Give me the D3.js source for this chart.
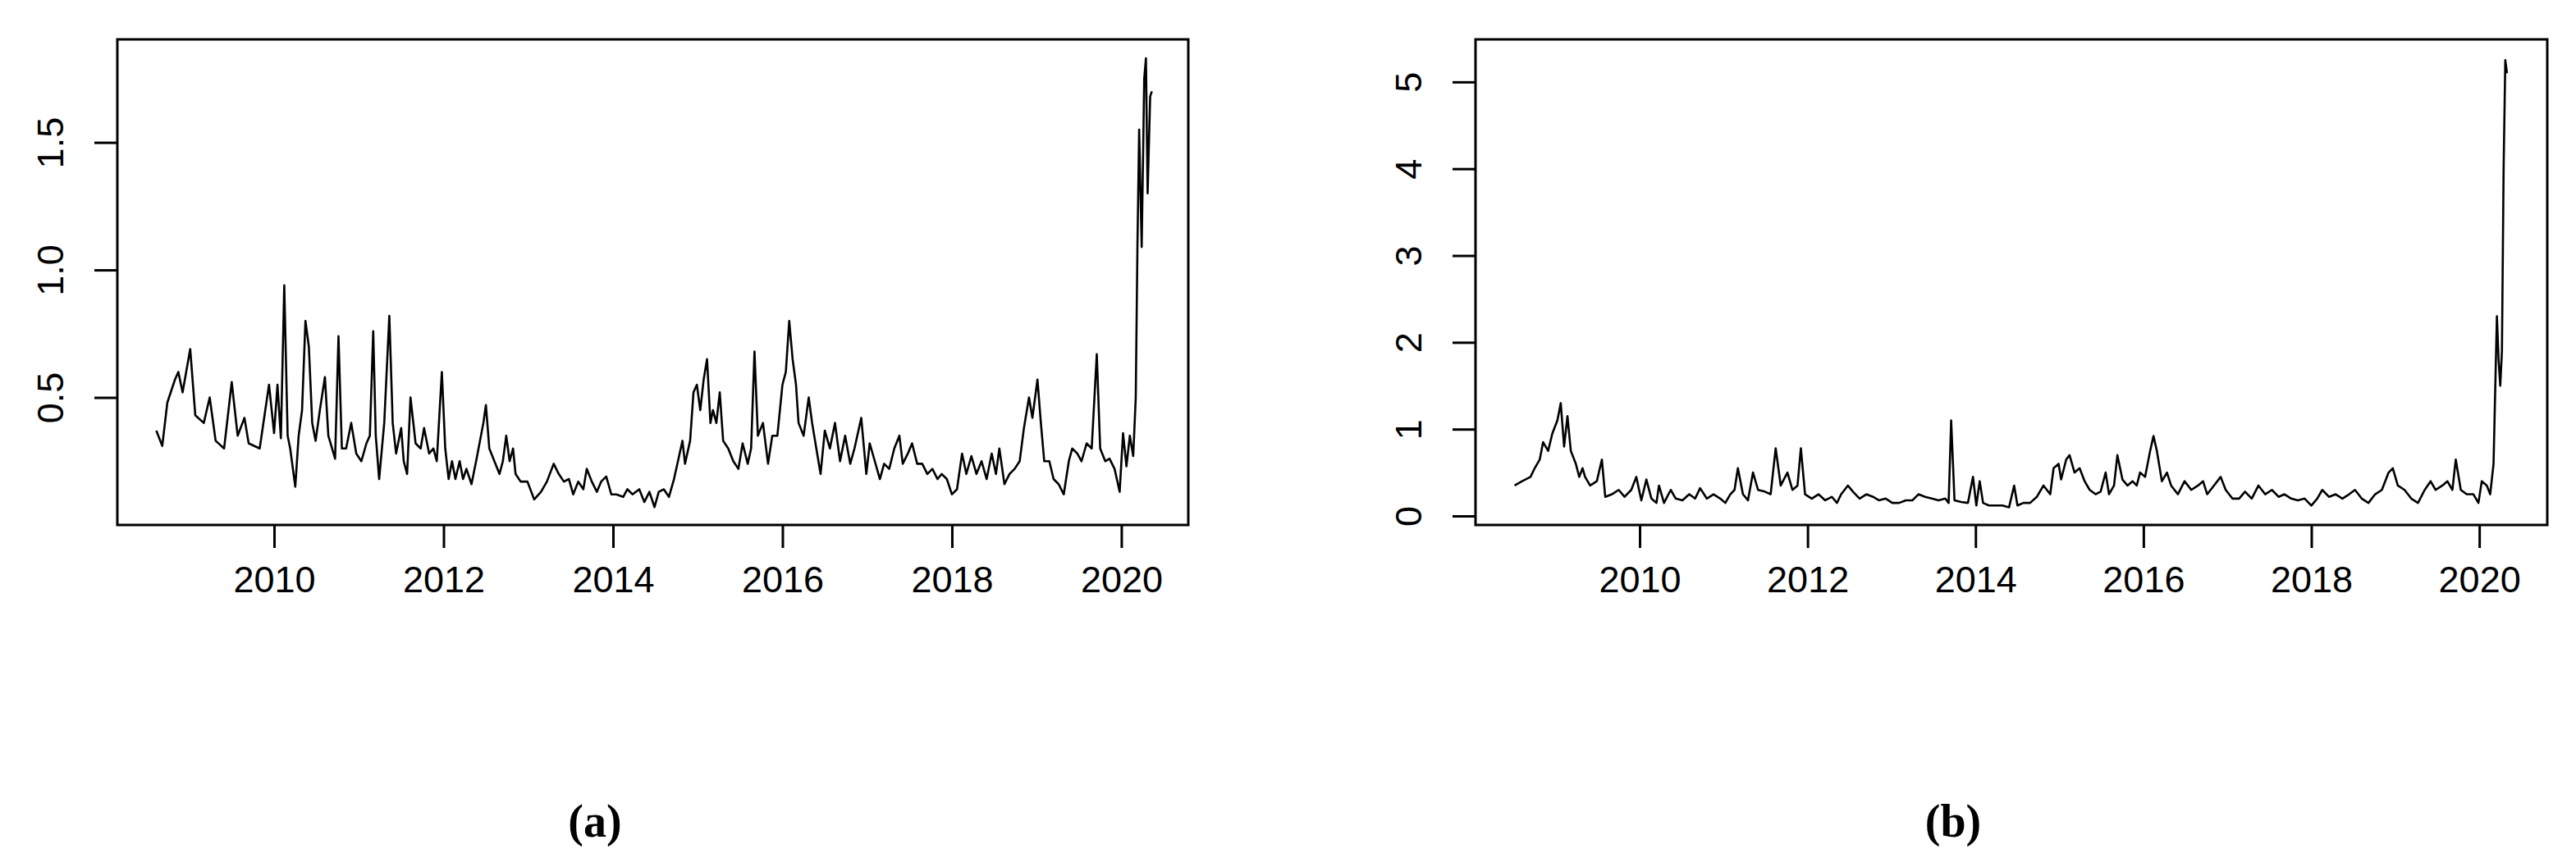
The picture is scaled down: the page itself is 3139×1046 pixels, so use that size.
<!DOCTYPE html>
<html><head><meta charset="utf-8">
<script src="https://cdn.jsdelivr.net/npm/d3@7"></script>
<style>body{margin:0;background:#fff}svg{display:block}</style>
</head><body>
<script>
const aYears=[2008.61,2008.68,2008.74,2008.83,2008.87,2008.92,2009.01,2009.07,2009.17,2009.24,2009.31,2009.41,2009.50,2009.57,2009.65,2009.70,2009.83,2009.94,2010.00,2010.04,2010.08,2010.12,2010.16,2010.19,2010.25,2010.29,2010.33,2010.37,2010.41,2010.45,2010.49,2010.54,2010.60,2010.64,2010.72,2010.76,2010.80,2010.85,2010.91,2010.97,2011.03,2011.09,2011.13,2011.17,2011.20,2011.24,2011.30,2011.36,2011.40,2011.44,2011.50,2011.53,2011.57,2011.61,2011.67,2011.73,2011.77,2011.83,2011.88,2011.92,2011.98,2012.02,2012.06,2012.10,2012.14,2012.19,2012.23,2012.27,2012.33,2012.39,2012.47,2012.50,2012.54,2012.60,2012.66,2012.70,2012.74,2012.78,2012.82,2012.85,2012.91,2012.99,2013.07,2013.15,2013.22,2013.30,2013.36,2013.42,2013.48,2013.53,2013.59,2013.65,2013.69,2013.75,2013.81,2013.86,2013.92,2013.98,2014.04,2014.12,2014.17,2014.23,2014.31,2014.37,2014.43,2014.49,2014.54,2014.60,2014.66,2014.72,2014.78,2014.82,2014.85,2014.91,2014.95,2014.99,2015.03,2015.07,2015.11,2015.15,2015.18,2015.22,2015.26,2015.30,2015.36,2015.42,2015.48,2015.53,2015.59,2015.63,2015.67,2015.71,2015.77,2015.83,2015.88,2015.94,2016.00,2016.04,2016.08,2016.12,2016.16,2016.19,2016.25,2016.31,2016.35,2016.41,2016.45,2016.50,2016.56,2016.62,2016.68,2016.74,2016.80,2016.85,2016.93,2016.99,2017.03,2017.09,2017.15,2017.20,2017.26,2017.32,2017.38,2017.42,2017.48,2017.53,2017.59,2017.65,2017.71,2017.77,2017.83,2017.88,2017.94,2018.00,2018.06,2018.12,2018.17,2018.23,2018.29,2018.35,2018.41,2018.47,2018.52,2018.56,2018.62,2018.68,2018.74,2018.80,2018.85,2018.91,2018.95,2019.01,2019.05,2019.09,2019.15,2019.20,2019.26,2019.32,2019.38,2019.42,2019.48,2019.53,2019.59,2019.65,2019.71,2019.75,2019.81,2019.86,2019.92,2019.98,2020.02,2020.06,2020.10,2020.14,2020.17,2020.19,2020.21,2020.24,2020.27,2020.29,2020.31,2020.34,2020.36];
const aValues=[0.37,0.31,0.48,0.57,0.60,0.52,0.69,0.43,0.40,0.50,0.33,0.30,0.56,0.35,0.42,0.32,0.30,0.55,0.36,0.55,0.34,0.94,0.35,0.30,0.15,0.35,0.45,0.80,0.70,0.40,0.33,0.45,0.58,0.35,0.26,0.74,0.30,0.30,0.40,0.28,0.25,0.32,0.35,0.76,0.35,0.18,0.40,0.82,0.40,0.28,0.38,0.25,0.20,0.50,0.32,0.30,0.38,0.28,0.30,0.25,0.60,0.30,0.18,0.25,0.18,0.25,0.18,0.22,0.16,0.26,0.40,0.47,0.30,0.25,0.20,0.25,0.35,0.25,0.30,0.20,0.17,0.17,0.10,0.13,0.17,0.24,0.20,0.17,0.18,0.12,0.17,0.14,0.22,0.17,0.13,0.17,0.19,0.12,0.12,0.11,0.14,0.12,0.14,0.09,0.13,0.07,0.13,0.14,0.11,0.18,0.27,0.33,0.24,0.33,0.52,0.55,0.45,0.57,0.65,0.40,0.45,0.40,0.52,0.33,0.30,0.25,0.22,0.32,0.24,0.30,0.68,0.35,0.40,0.24,0.35,0.35,0.55,0.60,0.80,0.65,0.55,0.40,0.35,0.50,0.40,0.28,0.20,0.37,0.30,0.40,0.25,0.35,0.24,0.30,0.42,0.20,0.32,0.25,0.18,0.24,0.22,0.30,0.35,0.24,0.28,0.32,0.24,0.24,0.20,0.22,0.18,0.20,0.18,0.12,0.14,0.28,0.20,0.27,0.20,0.25,0.18,0.28,0.20,0.30,0.16,0.20,0.22,0.25,0.38,0.50,0.42,0.57,0.40,0.25,0.25,0.18,0.16,0.12,0.25,0.30,0.28,0.25,0.32,0.30,0.67,0.30,0.25,0.26,0.22,0.13,0.36,0.23,0.35,0.27,0.50,1.10,1.55,1.09,1.75,1.83,1.30,1.68,1.70];
const bYears=[2008.51,2008.60,2008.70,2008.75,2008.81,2008.85,2008.91,2008.96,2009.02,2009.06,2009.10,2009.14,2009.18,2009.24,2009.28,2009.32,2009.35,2009.41,2009.49,2009.55,2009.59,2009.67,2009.75,2009.82,2009.90,2009.96,2010.02,2010.08,2010.14,2010.20,2010.23,2010.29,2010.37,2010.43,2010.51,2010.59,2010.66,2010.72,2010.80,2010.88,2010.96,2011.02,2011.08,2011.13,2011.17,2011.23,2011.29,2011.35,2011.41,2011.49,2011.56,2011.62,2011.68,2011.76,2011.82,2011.88,2011.92,2011.97,2012.05,2012.13,2012.21,2012.29,2012.35,2012.40,2012.48,2012.54,2012.62,2012.70,2012.78,2012.85,2012.93,2013.01,2013.09,2013.17,2013.25,2013.32,2013.40,2013.48,2013.56,2013.64,2013.68,2013.71,2013.75,2013.83,2013.91,2013.97,2014.01,2014.05,2014.09,2014.16,2014.24,2014.32,2014.40,2014.46,2014.50,2014.57,2014.65,2014.73,2014.81,2014.89,2014.93,2014.99,2015.02,2015.08,2015.12,2015.18,2015.24,2015.30,2015.36,2015.43,2015.49,2015.55,2015.59,2015.65,2015.69,2015.75,2015.81,2015.87,2015.92,2015.96,2016.02,2016.08,2016.12,2016.16,2016.22,2016.28,2016.33,2016.41,2016.49,2016.57,2016.65,2016.71,2016.76,2016.84,2016.92,2016.98,2017.06,2017.14,2017.21,2017.29,2017.37,2017.45,2017.53,2017.61,2017.68,2017.76,2017.84,2017.92,2018.00,2018.07,2018.13,2018.21,2018.29,2018.37,2018.45,2018.52,2018.60,2018.68,2018.76,2018.84,2018.92,2018.97,2019.03,2019.11,2019.19,2019.27,2019.35,2019.42,2019.48,2019.56,2019.62,2019.68,2019.72,2019.78,2019.85,2019.93,2019.99,2020.03,2020.09,2020.13,2020.17,2020.21,2020.23,2020.25,2020.27,2020.29,2020.31,2020.33];
const bValues=[0.35,0.40,0.45,0.55,0.65,0.85,0.75,0.95,1.10,1.30,0.80,1.15,0.75,0.60,0.45,0.55,0.45,0.35,0.40,0.65,0.22,0.25,0.30,0.22,0.30,0.45,0.18,0.42,0.20,0.15,0.35,0.15,0.30,0.20,0.18,0.25,0.20,0.32,0.20,0.25,0.20,0.15,0.25,0.30,0.55,0.25,0.18,0.50,0.30,0.28,0.25,0.78,0.35,0.50,0.30,0.35,0.78,0.25,0.20,0.25,0.18,0.22,0.15,0.25,0.35,0.28,0.20,0.25,0.22,0.18,0.20,0.15,0.15,0.18,0.18,0.25,0.22,0.20,0.18,0.20,0.15,1.10,0.18,0.16,0.15,0.45,0.12,0.40,0.15,0.12,0.12,0.12,0.10,0.35,0.12,0.15,0.15,0.22,0.35,0.25,0.55,0.60,0.42,0.65,0.70,0.50,0.55,0.40,0.30,0.25,0.28,0.50,0.25,0.35,0.70,0.42,0.35,0.40,0.35,0.50,0.45,0.75,0.92,0.75,0.40,0.50,0.35,0.25,0.40,0.30,0.35,0.40,0.25,0.35,0.45,0.30,0.20,0.20,0.28,0.20,0.35,0.25,0.30,0.22,0.25,0.20,0.18,0.20,0.12,0.20,0.30,0.22,0.25,0.20,0.25,0.30,0.20,0.15,0.25,0.30,0.50,0.55,0.35,0.30,0.20,0.15,0.30,0.40,0.30,0.35,0.40,0.30,0.65,0.30,0.25,0.25,0.15,0.40,0.35,0.25,0.60,2.30,1.80,1.50,1.90,4.00,5.25,5.10];
const xTicks=[2010,2012,2014,2016,2018,2020];
const aYTicks=[0.5,1.0,1.5];
const bYTicks=[0,1,2,3,4,5];
const captions=["(a)","(b)"];

const W=3139,H=1046;
const svg=d3.select("body").append("svg").attr("width",W).attr("height",H);
const panels=[
 {years:aYears,vals:aValues,yt:aYTicks,fmt:d3.format(".1f"),x0:143,x1:1448,xd:[2008.15,2020.79],yd:[0,1.904],cap:captions[0],cx:725},
 {years:bYears,vals:bValues,yt:bYTicks,fmt:d3.format("d"),x0:1798,x1:3104,xd:[2008.045,2020.81],yd:[-0.104,5.49],cap:captions[1],cx:2380}
];
const plotTop=48,plotBot=640;
panels.forEach(p=>{
 const x=d3.scaleLinear().domain(p.xd).range([p.x0,p.x1]);
 const y=d3.scaleLinear().domain(p.yd).range([plotBot,plotTop]);
 const g=svg.append("g");
 const n=Math.min(p.years.length,p.vals.length);
 const pts=d3.range(n).map(i=>[p.years[i],p.vals[i]]);
 const line=d3.line().x(d=>x(d[0])).y(d=>y(d[1]));
 g.append("path").datum(pts).attr("d",line).attr("fill","none").attr("stroke","#000").attr("stroke-width",2.6).attr("stroke-linejoin","round");
 g.append("rect").attr("x",p.x0).attr("y",plotTop).attr("width",p.x1-p.x0).attr("height",plotBot-plotTop).attr("fill","none").attr("stroke","#000").attr("stroke-width",3);
 const xa=g.append("g").attr("transform",`translate(0,${plotBot})`).call(d3.axisBottom(x).tickValues(xTicks).tickSize(28).tickPadding(22).tickFormat(d3.format("d")));
 xa.select(".domain").remove();
 xa.selectAll("line").attr("stroke-width",3);
 xa.selectAll("text").attr("font-family","Liberation Sans, Arial").attr("font-size",45).attr("fill","#000");
 const ya=g.append("g").attr("transform",`translate(${p.x0},0)`).call(d3.axisLeft(y).tickValues(p.yt).tickSize(28).tickPadding(0).tickFormat(p.fmt));
 ya.select(".domain").remove();
 ya.selectAll("line").attr("stroke-width",3);
 ya.selectAll("text").attr("font-family","Liberation Sans, Arial").attr("font-size",45).attr("fill","#000")
   .attr("text-anchor","middle").attr("x",0).attr("dy",0)
   .attr("transform","translate(-66,0) rotate(-90)");
 svg.append("text").attr("x",p.cx).attr("y",1020).attr("text-anchor","middle")
   .attr("font-family","Liberation Serif, Times New Roman, serif").attr("font-weight","bold").attr("font-size",56).text(p.cap);
});
</script>
</body></html>
